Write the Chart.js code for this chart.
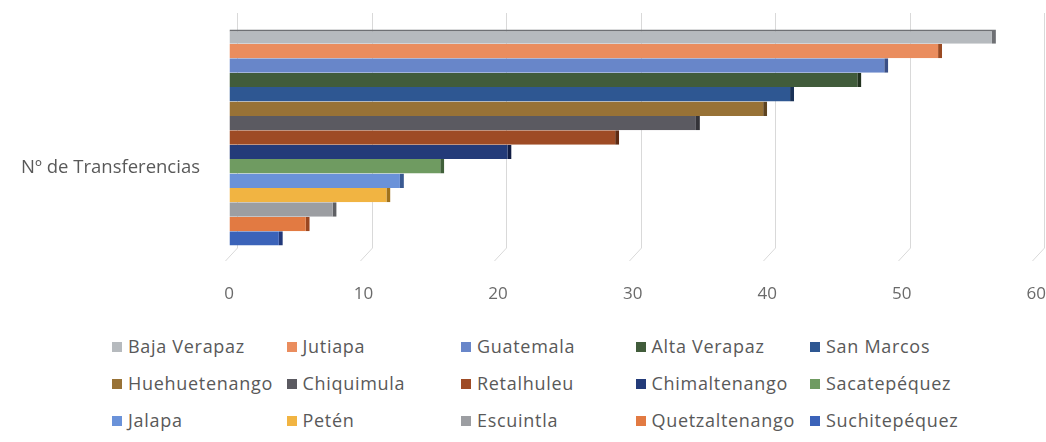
<!DOCTYPE html>
<html>
<head>
<meta charset="utf-8">
<script src="https://cdn.jsdelivr.net/npm/chart.js@4/dist/chart.umd.min.js"></script>
<style>
  html,body{margin:0;padding:0;background:#fff;}
  #wrap{position:relative;width:1046px;height:442px;overflow:hidden;background:#fff;}
  #c{position:absolute;left:0;top:0;}
  .lg{position:absolute;font-family:"Open Sans",sans-serif;font-size:18px;color:#595959;white-space:nowrap;line-height:20px;letter-spacing:0.7px;}
  .lg i{position:absolute;left:0;top:5px;width:10px;height:10px;}
  .lg span{position:absolute;left:16px;top:-1px;}
</style>
</head>
<body>
<div id="wrap">
  <canvas id="c" width="1046" height="310"></canvas>
  <div id="legend"></div>
</div>
<script>
const categories = ['Nº de Transferencias'];
const seriesNames = ['Baja Verapaz','Jutiapa','Guatemala','Alta Verapaz','San Marcos',
  'Huehuetenango','Chiquimula','Retalhuleu','Chimaltenango','Sacatepéquez',
  'Jalapa','Petén','Escuintla','Quetzaltenango','Suchitepéquez'];
const seriesValues = [57,53,49,47,42,40,35,29,21,16,13,12,8,6,4];
const tickValues = [0,10,20,30,40,50,60];

const fills = ['#b6babe','#ea8d5e','#6886c9','#415c3b','#2e5792','#987236','#5b5a61','#9e4b25',
  '#233b79','#6f9b61','#6a92d9','#f1b442','#9c9ea2','#e27a42','#3b63b9'];
const caps  = ['#6e7074','#9a4a22','#3a4f86','#22321f','#1a3257','#5e4420','#343338','#5e2a12',
  '#111d44','#40603a','#3a5a92','#a0721c','#5f6064','#9a4620','#22397a'];

const datasets = seriesNames.map((n,i)=>({
  label:n,
  data:[seriesValues[i]],
  backgroundColor:fills[i],
  borderColor:caps[i],
  borderWidth:{top:(i===0?2:0),right:4,bottom:0,left:0},
  borderSkipped:false,
  categoryPercentage:0.868,
  barPercentage:1
}));

const gridPlugin = {
  id:'perspGrid',
  beforeDatasetsDraw(chart){
    const {ctx, scales:{x}} = chart;
    ctx.save();
    ctx.strokeStyle='#d9d9d9';
    ctx.lineWidth=1;
    tickValues.forEach(v=>{
      const px = Math.round(x.getPixelForValue(v))+0.5;
      ctx.beginPath();
      ctx.moveTo(px+8, 13);
      ctx.lineTo(px+8, 248);
      ctx.lineTo(px-4, 261);
      ctx.stroke();
    });
    ctx.restore();
  }
};

const chart = new Chart(document.getElementById('c'), {
  type:'bar',
  data:{labels:categories, datasets},
  options:{
    indexAxis:'y',
    responsive:false,
    animation:false,
    layout:{padding:{left:0,right:5,top:13,bottom:0}},
    plugins:{legend:{display:false},tooltip:{enabled:false}},
    scales:{
      x:{
        min:0,max:60,
        afterBuildTicks(s){ s.ticks = tickValues.map(v=>({value:v})); },
        ticks:{color:'#6a6a6a',font:{family:'Open Sans',size:17},padding:0,maxRotation:0},
        grid:{display:true,drawOnChartArea:false,drawTicks:true,tickLength:22,color:'rgba(0,0,0,0)'},
        border:{display:false},
        afterFit(s){ s.height = 48; }
      },
      y:{
        ticks:{color:'#595959',font:{family:'Open Sans',size:18.5},padding:0,labelOffset:30},
        grid:{display:true,drawOnChartArea:false,drawTicks:true,tickLength:29,color:'rgba(0,0,0,0)'},
        border:{display:false},
        afterFit(s){ s.width = 229; }
      }
    }
  },
  plugins:[gridPlugin]
});

// HTML legend built from the chart's own legend items
const items = Chart.defaults.plugins.legend.labels.generateLabels(chart);
const lg = document.getElementById('legend');
items.forEach((it,k)=>{
  const col = k%5, row = Math.floor(k/5);
  const d = document.createElement('div');
  d.className='lg';
  d.style.left = (112 + col*174.5)+'px';
  d.style.top = (337 + row*37)+'px';
  const sw = document.createElement('i');
  sw.style.background = it.fillStyle;
  const t = document.createElement('span');
  t.textContent = it.text;
  d.appendChild(sw); d.appendChild(t);
  lg.appendChild(d);
});
</script>
</body>
</html>
